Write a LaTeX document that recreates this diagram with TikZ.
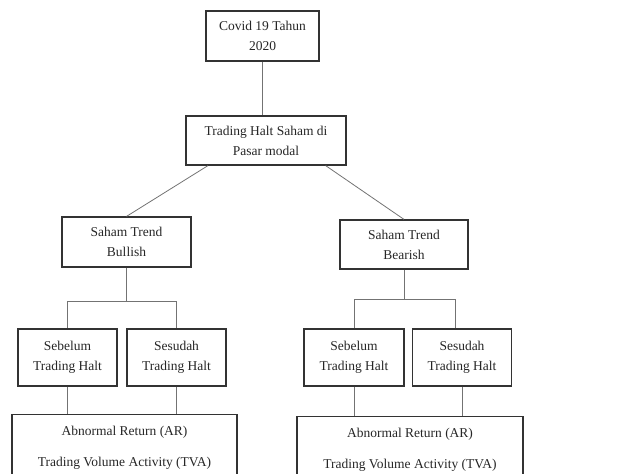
\documentclass[tikz,border=0pt]{standalone}
\usepackage{fontspec}
\setmainfont{Liberation Serif}
\usetikzlibrary{
    calc,
    positioning
}
\tikzset{
    kotak/.style={draw=black!80, line width=1.2pt, align=center, inner sep=0pt,
        font=\fontsize{13.5}{20}\selectfont, text=black!85},
    garis/.style={draw=black!55, line width=0.8pt}
}

\begin{document}
\begin{tikzpicture}[x=1pt, y=-1pt]
                        \useasboundingbox (0, 0) rectangle (625, 474);
                        \clip (0, 0) rectangle (625, 474);

                        \node[kotak, minimum width=113pt, minimum height=50pt] (covid) at (262.5, 36) {Covid 19 Tahun\\2020};
                        \node[kotak, minimum width=160pt, minimum height=49pt] (th) at (266, 140.5) {Trading Halt Saham di\\Pasar modal};

                        \node[kotak, minimum width=129pt, minimum height=50pt] (bull) at (126.5, 242) {Saham Trend\\Bullish};
                        \node[kotak, minimum width=128pt, minimum height=49pt] (bear) at (404, 244.5) {Saham Trend\\Bearish};

                        \node[kotak, minimum width=99pt, minimum height=57pt] (sebL) at (67.5, 357.5) {Sebelum\\Trading Halt};
                        \node[kotak, minimum width=99pt, minimum height=57pt] (sesL) at (176.5, 357.5) {Sesudah\\Trading Halt};
                        \node[kotak, minimum width=100pt, minimum height=57pt] (sebR) at (354, 357.5) {Sebelum\\Trading Halt};
                        \node[kotak, minimum width=99pt, minimum height=57pt] (sesR) at (462, 357.5) {Sesudah\\Trading Halt};

                        \node[kotak, anchor=north, minimum width=225pt, inner ysep=11.5pt] (arL) at (124.5, 414) {Abnormal Return (AR)\\[11pt]Trading Volume Activity (TVA)\\[20pt]};
                        \node[kotak, anchor=north, minimum width=226pt, inner ysep=11.5pt] (arR) at (410, 416) {Abnormal Return (AR)\\[11pt]Trading Volume Activity (TVA)\\[20pt]};

                        \draw[garis] (covid.south) -- (covid.south |- th.north);
                        \draw[garis] ($(th.south west)!0.14!(th.south east)$) -- (bull.north);
                        \draw[garis] ($(th.south west)!0.87!(th.south east)$) -- (bear.north);

                        \draw[garis] (bull.south) -- ++(0, 34) -| (sebL.north);
                        \draw[garis] (bull.south) ++(0, 34) -| (sesL.north);
                        \draw[garis] (bear.south) -- ++(0, 30) -| (sebR.north);
                        \draw[garis] (bear.south) ++(0, 30) -| ($(sesR.north)+(-7, 0)$);

                        \draw[garis] (sebL.south) -- (sebL.south |- arL.north);
                        \draw[garis] (sesL.south) -- (sesL.south |- arL.north);
                        \draw[garis] (sebR.south) -- (sebR.south |- arR.north);
                        \draw[garis] (sesR.south) -- (sesR.south |- arR.north);
                    \end{tikzpicture}
\end{document}
